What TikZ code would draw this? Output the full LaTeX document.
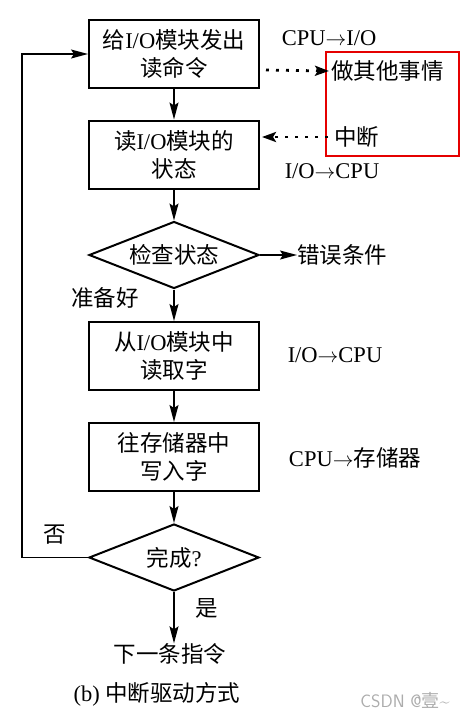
\documentclass[tikz,border=0pt]{standalone}
\usepackage{fontspec}
\setmainfont{Liberation Serif}
\newfontfamily\zhfont{Noto Sans CJK SC}
\newcommand{\zh}[1]{{\zhfont #1}}
\usetikzlibrary{shapes.geometric,arrows.meta,calc}
\begin{document}
\begin{tikzpicture}[x=1pt,y=-1pt,
  every node/.style={font=\fontsize{22.5}{28}\selectfont, align=center},
  box/.style={draw, line width=2pt, minimum width=170pt, minimum height=68pt, inner sep=0pt},
  dia/.style={draw, diamond, line width=2pt, aspect=2.54, minimum width=170pt, minimum height=67pt, inner sep=0pt},
  arr/.style={line width=1.4pt, -{Stealth[length=17pt,width=9pt,inset=3pt]}},
  dotarr/.style={line width=2.8pt, dash pattern=on 2.8pt off 7.2pt, -{Stealth[length=14pt,width=10pt,inset=3pt]}},
  lbl/.style={inner sep=0pt}]
\useasboundingbox (0,0) rectangle (474,718);
\node[box] (b1) at (174,54) {\zh{给}I/O\zh{模块发出}\\\zh{读命令}};
\node[box] (b2) at (174,154.5) {\zh{读}I/O\zh{模块的}\\\zh{状态}};
\node[dia] (d1) at (174,255) {\zh{检查状态}};
\node[box] (b3) at (174,356) {\zh{从}I/O\zh{模块中}\\\zh{读取字}};
\node[box] (b4) at (174,457) {\zh{往存储器中}\\\zh{写入字}};
\node[dia] (d2) at (174,557.5) {\zh{完成}?};
\node[lbl] (next) at (170,654) {\zh{下一条指令}};
\node[lbl] (cap) at (157,694) {(b) \zh{中断驱动方式}};
\node[lbl, font=\sffamily\fontsize{18}{20}\selectfont, text=gray!65] (wm) at (405,700) {CSDN @\zh{壹}\textasciitilde};

\node[lbl] (t1) at (329,38) {CPU$\to$I/O};
\node[lbl] (t2) at (332,171) {I/O$\to$CPU};
\node[lbl] (t3) at (335,355) {I/O$\to$CPU};
\node[lbl] (t4) at (355,458) {CPU$\to$\zh{存储器}};
\node[lbl, anchor=west] (err) at (297,255) {\zh{错误条件}};
\node[lbl] (ready) at (105,298) {\zh{准备好}};
\node[lbl] (no) at (55,535) {\zh{否}};
\node[lbl] (yes) at (207,608) {\zh{是}};

\node[lbl, anchor=west] (other) at (331,71) {\zh{做其他事情}};
\node[lbl, anchor=west] (intr) at (334,137) {\zh{中断}};
\node[draw=red!90!black, line width=2pt, minimum width=133pt, minimum height=104pt, inner sep=0pt] (red) at (392.5,104) {};

\draw[arr] (b1) -- (b2);
\draw[arr] (b2) -- (d1);
\draw[arr] (d1) -- (b3);
\draw[arr] (b3) -- (b4);
\draw[arr] (b4) -- (d2);
\draw[arr] (d2.south) -- (d2.south |- next.north);
\draw[arr] (d1.east) -- (err.west |- d1.east);
\coordinate (lb) at (22,557.5);
\coordinate (lt) at (22,54);
\draw[arr] (d2.west) -- (lb) -- (lt) -- (b1.west);
\draw[dotarr] ([yshift=-16pt]b1.east) ++(6pt,0) -- ([xshift=-2pt]other.west);
\draw[dotarr] ([xshift=-6pt]intr.west) -- ([yshift=17.5pt, xshift=2pt]b2.east);
\end{tikzpicture}
\end{document}
